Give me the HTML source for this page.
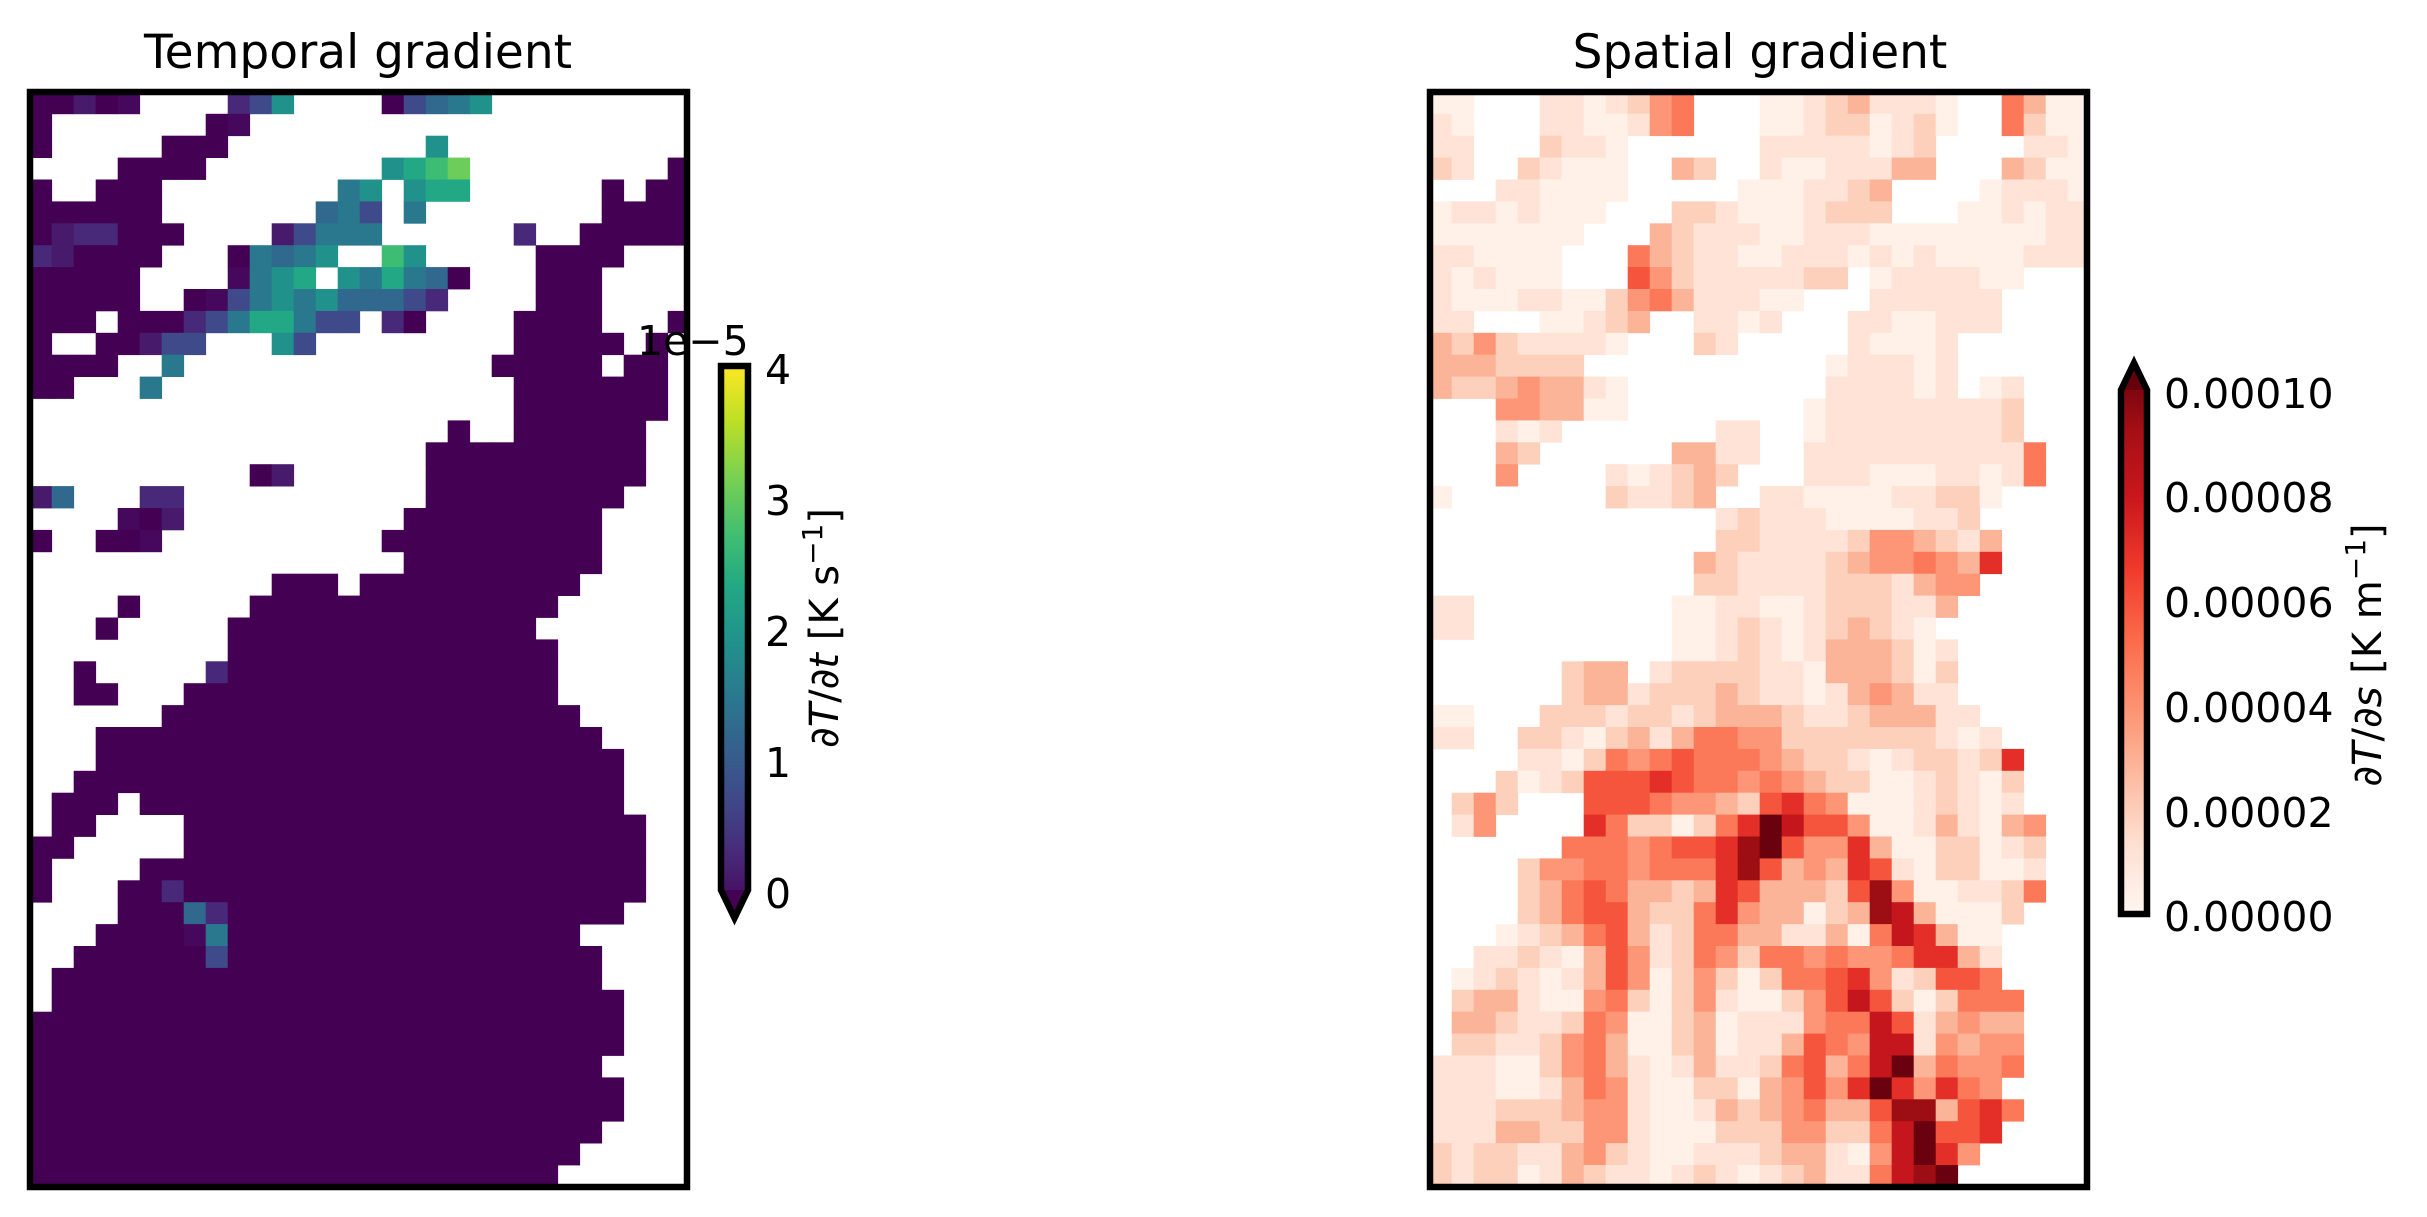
<!DOCTYPE html>
<html><head><meta charset="utf-8"><style>
html,body{margin:0;padding:0;background:#fff;}
svg{display:block;}
text{font-family:"DejaVu Sans","Liberation Sans",sans-serif;fill:#000;}
</style></head><body>
<svg id="s" width="2427" height="1217" xmlns="http://www.w3.org/2000/svg">
<defs>
<linearGradient id="vir" x1="0" y1="1" x2="0" y2="0">
<stop offset="0" stop-color="#440154"/><stop offset="0.1" stop-color="#482475"/><stop offset="0.2" stop-color="#414487"/><stop offset="0.3" stop-color="#355f8d"/><stop offset="0.4" stop-color="#2a788e"/><stop offset="0.5" stop-color="#21918c"/><stop offset="0.6" stop-color="#22a884"/><stop offset="0.7" stop-color="#44bf70"/><stop offset="0.8" stop-color="#7ad151"/><stop offset="0.9" stop-color="#bddf26"/><stop offset="1" stop-color="#fde725"/>
</linearGradient>
<linearGradient id="red" x1="0" y1="1" x2="0" y2="0">
<stop offset="0" stop-color="#fff5f0"/><stop offset="0.125" stop-color="#fee0d2"/><stop offset="0.25" stop-color="#fcbba1"/><stop offset="0.375" stop-color="#fc9272"/><stop offset="0.5" stop-color="#fb6a4a"/><stop offset="0.625" stop-color="#ef3b2c"/><stop offset="0.75" stop-color="#cb181d"/><stop offset="0.875" stop-color="#a50f15"/><stop offset="1" stop-color="#67000d"/>
</linearGradient>
<clipPath id="c1"><rect x="33" y="95" width="651" height="1089"/></clipPath>
<clipPath id="c2"><rect x="1433" y="95" width="651" height="1089"/></clipPath>
</defs>
<g id="g1" clip-path="url(#c1)"></g>
<g id="g2" clip-path="url(#c2)"></g>
<rect x="30" y="92" width="657" height="1095" fill="none" stroke="#000" stroke-width="6.5"/>
<rect x="1430" y="92" width="657" height="1095" fill="none" stroke="#000" stroke-width="6.5"/>
<text x="358" y="68" font-size="47" text-anchor="middle">Temporal gradient</text>
<text x="1760" y="68" font-size="47" text-anchor="middle">Spatial gradient</text>

<path d="M721,366 L748,366 L748,890 L734.5,918 L721,890 Z" fill="url(#vir)"/>
<path d="M721,890 L748,890 L734.5,918 Z" fill="#440154"/>
<path d="M721,366 L748,366 L748,890 L734.5,918 L721,890 Z" fill="none" stroke="#000" stroke-width="6.5"/>
<g font-size="41" dominant-baseline="central">
<text x="765" y="370">4</text>
<text x="765" y="501">3</text>
<text x="765" y="632">2</text>
<text x="765" y="763">1</text>
<text x="765" y="894">0</text>
</g>
<text x="637" y="355" font-size="41">1e−5</text>
<text transform="translate(838,628) rotate(-90)" font-size="40" text-anchor="middle">∂<tspan font-style="italic">T</tspan>/∂<tspan font-style="italic">t</tspan> [K s<tspan font-size="28" dy="-16">−1</tspan><tspan dy="16">]</tspan></text>

<path d="M2121,914 L2147,914 L2147,390 L2134,363 L2121,390 Z" fill="url(#red)"/>
<path d="M2121,390 L2147,390 L2134,363 Z" fill="#67000d"/>
<path d="M2121,914 L2147,914 L2147,390 L2134,363 L2121,390 Z" fill="none" stroke="#000" stroke-width="6.5"/>
<g font-size="41" dominant-baseline="central">
<text x="2164" y="394">0.00010</text>
<text x="2164" y="498">0.00008</text>
<text x="2164" y="603">0.00006</text>
<text x="2164" y="708">0.00004</text>
<text x="2164" y="813">0.00002</text>
<text x="2164" y="917">0.00000</text>
</g>
<text transform="translate(2381,655) rotate(-90)" font-size="40" text-anchor="middle">∂<tspan font-style="italic">T</tspan>/∂<tspan font-style="italic">s</tspan> [K m<tspan font-size="28" dy="-16">−1</tspan><tspan dy="16">]</tspan></text>
</svg>
<script>
var L=[
"ppqpz....rsv....pstuv.........",
"p.......pz....................",
"p.....ppp.........v...........",
"....pppp........vwxy.........p",
"p..ppp........uv.vww......p.pp",
"pppppp.......tus.u........pppp",
"pqrrppp....qsuuu......r..ppppp",
"rqpppp...putuv..xv.....pppp...",
"ppppp....zuvw.vuwutp...ppp....",
"ppppp..pzsuvuvtttsr....ppp....",
"ppp.ppprsuwwuss.rp....pppp...p",
"p..ppqss...vs.........ppppp.p.",
"pppp..u..............ppppp.pp.",
"pp...u................ppppppp.",
"......................ppppppp.",
"...................p..pppppp..",
"..................pppppppppp..",
"..........pq......pppppppppp..",
"qt...rr...........ppppppppp...",
"....zpq..........ppppppppp....",
"p..ppz..........pppppppppp....",
".................ppppppppp....",
"...........ppp.pppppppppp.....",
"....p.....pppppppppppppp......",
"...p.....pppppppppppppp.......",
".........ppppppppppppppp......",
"..p.....rppppppppppppppp......",
"..pp...ppppppppppppppppp......",
"......ppppppppppppppppppp.....",
"...ppppppppppppppppppppppp....",
"...pppppppppppppppppppppppp...",
"..ppppppppppppppppppppppppp...",
".ppp.pppppppppppppppppppppp...",
".pp....ppppppppppppppppppppp..",
"pp.....ppppppppppppppppppppp..",
"p....ppppppppppppppppppppppp..",
"p...pprppppppppppppppppppppp..",
"....ppptrpppppppppppppppppp...",
"...ppppzupppppppppppppppp....",
"..ppppppsppppppppppppppppp....",
".ppppppppppppppppppppppppp....",
".pppppppppppppppppppppppppp...",
"ppppppppppppppppppppppppppp...",
"ppppppppppppppppppppppppppp...",
"pppppppppppppppppppppppppp....",
"ppppppppppppppppppppppppppp...",
"ppppppppppppppppppppppppppp...",
"pppppppppppppppppppppppppp....",
"ppppppppppppppppppppppppp.....",
"pppppppppppppppppppppppp......"];
var R=[
"aa...bbabcef...aabcdbbba..fdaa",
"ba...bbaabef...aabccabca..fcaa",
"bb...cbba......bbbbbabc....bba",
"cb..cbaaa..dc..baabbbdd...dcaa",
"...bbaaaa.....aaabbcd....abbba",
"abbabaaa...ccbaaabccc...aababb",
"aaaaaaa...dcbbbaabbbaaaaaaaabb",
"bbaaaa...fdcbbaabbbababaaaabbb",
"babaaa...gecbbbbbcc.abbbbaa...",
"baaabbaacefdbbbaa...bbbbbb....",
"bb...aabcd..bbab...bbaabbb....",
"dcecbbbba...cb.....baaab......",
"dddcccc...........abbbab......",
"dccdeddba.........bbbbab.ab...",
"...eeddaa........abbbbbbbbc...",
"...bab.......bb..abbbbbbbbc...",
"...dc......ddbb..bbbbbbbbbbf..",
"...e....babcdc...bbbaaabbabf..",
"a.......cbbcd..bbaaaabbcca....",
".............bcbbbaaaabbc.....",
".............ccbbbbceedcbd....",
"............dcbbbbcdeefedh....",
"............ccbbbbcccbdee.....",
"bb.........aabbaabcccbbd......",
"bb.........aabcbabcdcba.......",
"...........aabcbabdddcab......",
"......cdd.bccccbbadddcac......",
"......cddbcccdcbbabdedbb......",
"aa...cccbccbcdddcbbcdddbb.....",
"bb..ccbacdbdffeecccccccbab....",
"....bbacfefgfffedccbabccbch...",
"...cabcggghgffefedccaabcbac...",
".cec...gggfeedcghfeaaabcbab...",
".be....hfccacfhkiggeaabdbade..",
"......fffefgghjkgeehdaaccabc..",
"....ceeffefffhjgdedhgbaccaab..",
"....cdfgfddcdhgdddcgjeaabbcf..",
"....cdfggdccfheddacdjidaaac...",
"...abcdfgdbcffddbbdafihdaa....",
"..bbcbadgebcfecffefeefhhdb....",
".abcbabdgeacecacffghebcggf....",
".cddbaaefcacebaacegigcacfff...",
".ddcbbcfeaacdabbbeffigbdedd...",
".ccbbcefdaacdabbdgfeiibedee...",
"bbbaacefdbabdbbcfgdfikdfeef...",
"bbbaabdfebaacca degehkhehfe...".replace(" ",""),
"bbbcccdeebaabdcdefddgjjdghf...",
"bbbddcceebaaacccеeccfikggh....".replace("е","e"),
"cbccbbdecbaabbbcddbaeikhe.....",
"cbccabdcbbabcbabcdbbfijk......"];
var CL={p:"#440154",q:"#481a6c",r:"#482878",s:"#3e4a89",t:"#31688e",u:"#2a788e",v:"#21918c",w:"#22a884",x:"#3dbc74",y:"#6ccd5a",z:"#46085c"};
var CR={a:"#fff0e8",b:"#fee3d6",c:"#fdd0bc",d:"#fcb499",e:"#fc9676",f:"#fb7858",g:"#f5553c",h:"#e32f27",i:"#c4161c",j:"#9c0d14",k:"#6a010e"};
function ys(r){return r==0?95:1165-21.9*(49-r);}
function draw(id,rows,cmap,ox){
 var g=document.getElementById(id),h="";
 for(var r=0;r<50;r++){
  var s=(rows[r]||"").padEnd(30,".");
  var y0=ys(r), y1=(r==49)?1190:ys(r+1);
  for(var c=0;c<30;c++){
   var ch=s[c]; if(!cmap[ch]) continue;
   var x0=(c==0)?33:51.7+22*(c-1), x1=51.7+22*c;
   h+='<rect x="'+(x0+ox).toFixed(1)+'" y="'+y0.toFixed(1)+'" width="'+(x1-x0+0.4).toFixed(1)+'" height="'+(y1-y0+0.4).toFixed(1)+'" fill="'+cmap[ch]+'"/>';
  }
 }
 g.innerHTML=h;
}
draw("g1",L,CL,0);
draw("g2",R,CR,1400);
</script>
</body></html>
